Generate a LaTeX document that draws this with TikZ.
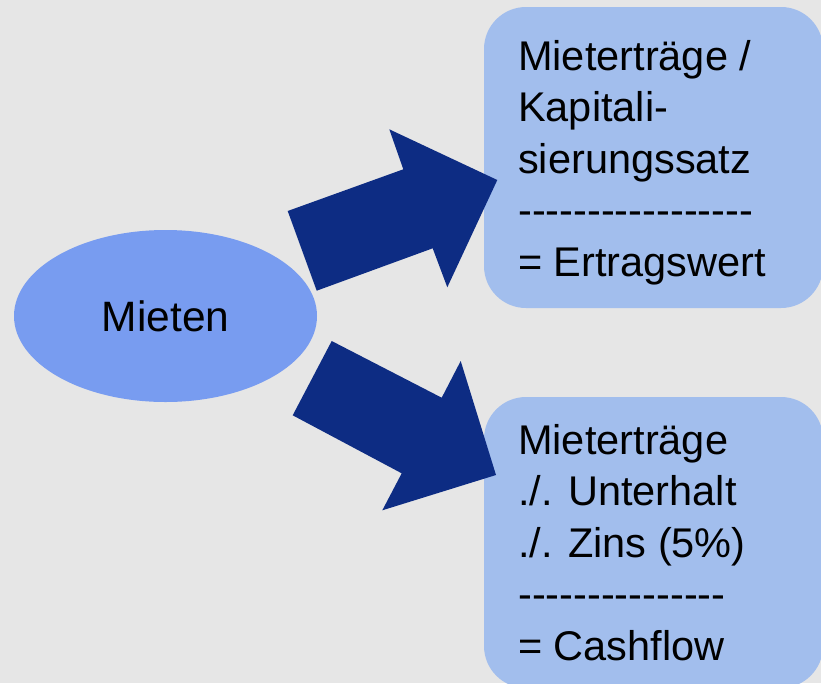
\documentclass[tikz,border=0pt]{standalone}
\usepackage{fontspec}
\setmainfont{Liberation Sans}
\usetikzlibrary{shapes.geometric}
\definecolor{bgc}{HTML}{E6E6E6}
\definecolor{ellc}{HTML}{789CF0}
\definecolor{boxc}{HTML}{A2BEED}
\definecolor{arrc}{HTML}{0D2C83}
\newcommand\hy{\mbox{-}}
\tikzset{
  boxshape/.style={fill=boxc, draw=none, rounded corners=42pt},
  blockarrow/.style={fill=arrc, draw=none},
  boxtext/.style={anchor=base west, inner sep=0pt, font=\fontsize{41.5}{51.5}\selectfont},
}
\begin{document}
\begin{tikzpicture}[x=1pt,y=-1pt]
\fill[bgc] (0,0) rectangle (821,683);
\useasboundingbox (0,0) rectangle (821,683);
% ellipse
\node[ellipse, fill=ellc, minimum width=303pt, minimum height=172pt, inner sep=0pt] (mieten) at (165.5,316) {};
\node[anchor=base, inner sep=0pt, font=\fontsize{42.5}{51}\selectfont] (mietentext) at (165.5,331.5) {Mieten};
% boxes
\path[boxshape] (484,7) rectangle (823,308);
\path[boxshape] (484,397) rectangle (823,688);
% arrows
\path[blockarrow] (287.7,211) -- (316.7,290.7) -- (432.7,248.3) -- (447.3,287.3) -- (497.3,180) -- (389.3,129.3) -- (403.3,169.3) -- cycle;
\path[blockarrow] (331.7,341) -- (292.7,415.3) -- (401.7,473.3) -- (382.3,510.3) -- (496,475) -- (460.7,361) -- (441.7,397.7) -- cycle;
% box texts
\node[boxtext] (ertrag) at (518,70) {\fontsize{41.5}{51.5}\selectfont\begin{tabular}[t]{@{}l@{}}Mieterträge /\\Kapitali-\\sierungssatz\\\hy\hy\hy\hy\hy\hy\hy\hy\hy\hy\hy\hy\hy\hy\hy\hy\hy\\= Ertragswert\end{tabular}};
\node[boxtext] (cash) at (518,454) {\fontsize{41.5}{51.5}\selectfont\begin{tabular}[t]{@{}l@{}}Mieterträge\\./. Unterhalt\\./. Zins (5\%)\\\hy\hy\hy\hy\hy\hy\hy\hy\hy\hy\hy\hy\hy\hy\hy\\= Cashflow\end{tabular}};
\end{tikzpicture}
\end{document}
